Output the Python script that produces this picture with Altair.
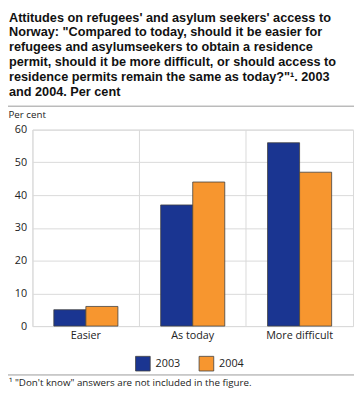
import altair as alt
import pandas as pd

categories = ["Easier", "As today", "More difficult"]
years = ["2003", "2004"]
values_2003 = [5, 37, 56]
values_2004 = [6, 44, 47]
colors = ["#1a3591", "#f7962f"]

title_lines = [
    "Attitudes on refugees' and asylum seekers' access to",
    "Norway: \"Compared to today, should it be easier for",
    "refugees and asylumseekers to obtain a residence",
    "permit, should it be more difficult, or should access to",
    "residence permits remain the same as today?\"\u00b9. 2003",
    "and 2004. Per cent",
]
footnote = "\u00b9 \"Don't know\" answers are not included in the figure."

rows = []
for i, c in enumerate(categories):
    rows.append({"category": c, "year": "2003", "value": values_2003[i]})
    rows.append({"category": c, "year": "2004", "value": values_2004[i]})
df = pd.DataFrame(rows)

FONT = "Open Sans"
TFONT = "Liberation Sans"

bars = alt.Chart(df).mark_bar(stroke="#404040", strokeWidth=0.8).encode(
    x=alt.X("category:N", sort=categories,
            scale=alt.Scale(paddingInner=0, paddingOuter=0),
            axis=alt.Axis(title=None, labelAngle=0, grid=True, bandPosition=0,
                          gridColor="#d9d9d9", domain=False, ticks=False,
                          labelFont=FONT, labelFontSize=11, labelColor="#222",
                          labelPadding=4)),
    xOffset=alt.XOffset("year:N", scale=alt.Scale(paddingInner=0, paddingOuter=0.667)),
    y=alt.Y("value:Q", scale=alt.Scale(domain=[0, 60]),
            axis=alt.Axis(values=[0, 10, 20, 30, 40, 50, 60], title="Per cent",
                          titleAngle=0, titleAlign="left", titleX=-25, titleY=-12,
                          titleFont=FONT, titleFontSize=10, titleFontWeight="normal",
                          titleColor="#222", titleBaseline="alphabetic",
                          gridColor="#d9d9d9", domain=False, ticks=False,
                          labelFont=FONT, labelFontSize=11, labelColor="#222",
                          labelPadding=6)),
    color=alt.Color("year:N", scale=alt.Scale(domain=years, range=colors),
                    legend=alt.Legend(title=None, orient="none", direction="horizontal",
                                      legendX=105, legendY=231,
                                      symbolType="square", symbolSize=225,
                                      symbolStrokeColor="#404040", symbolStrokeWidth=0.8,
                                      symbolOpacity=1,
                                      labelFont=FONT, labelFontSize=11, labelColor="#222",
                                      columnPadding=16, labelOffset=5)),
)

top_rule = alt.Chart(pd.DataFrame({"a": [0]})).mark_rule(color="#999", strokeWidth=1).encode(
    x=alt.value(-25), x2=alt.value(330), y=alt.value(-24)
)
bottom_rule = alt.Chart(pd.DataFrame({"a": [0]})).mark_rule(color="#999", strokeWidth=1).encode(
    x=alt.value(-25), x2=alt.value(330), y=alt.value(251)
)
note = alt.Chart(pd.DataFrame({"t": [footnote]})).mark_text(
    align="left", baseline="alphabetic", font=FONT, fontSize=10, color="#222"
).encode(text="t:N", x=alt.value(-24), y=alt.value(262))

chart = alt.layer(bars, top_rule, bottom_rule, note).properties(
    width=328, height=201,
    autosize=alt.AutoSizeParams(type="none"),
    padding={"left": 25, "top": 120, "right": 1, "bottom": 64},
    title=alt.TitleParams(text=title_lines, anchor="start", frame="group", dx=-24,
                          offset=7, font=TFONT, fontSize=13, fontWeight="bold",
                          color="#111", lineHeight=15.2),
).configure_view(stroke="#d9d9d9")

chart.save("out.html", embed_options={"renderer": "svg", "actions": False})
